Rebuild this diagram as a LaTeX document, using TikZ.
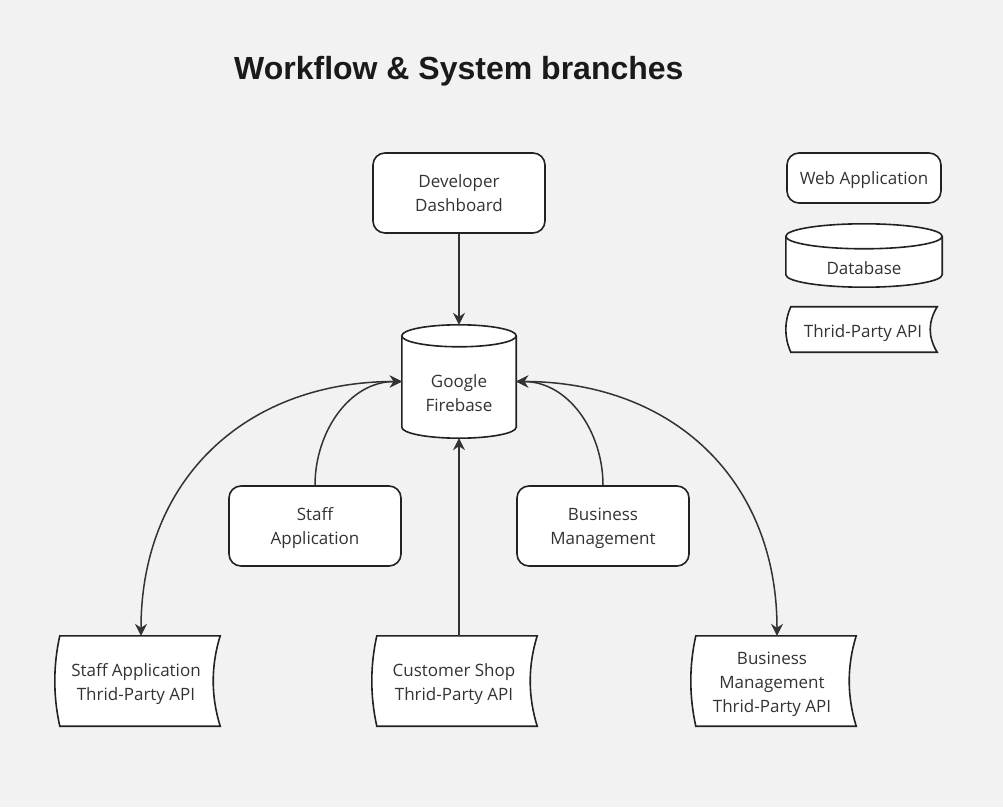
\documentclass[tikz,border=0pt]{standalone}
\usepackage{fontspec}
\setmainfont{Open Sans}
\newfontfamily\titlefont{Liberation Sans}
\usetikzlibrary{arrows.meta,calc}
\pgfdeclarelayer{bgl}
\pgfdeclarelayer{shapel}
\pgfsetlayers{bgl,shapel,main}
\definecolor{bgc}{HTML}{F2F2F2}
\definecolor{linec}{HTML}{222222}
\definecolor{connc}{HTML}{333333}
\definecolor{textc}{HTML}{333333}
\definecolor{titlec}{HTML}{1A1A1A}
\tikzset{
  nodefont/.style={font=\fontsize{17}{24}\selectfont},
  webbox/.style={draw=linec, line width=1.6pt, fill=white, rounded corners=12pt,
    align=center, text=textc, nodefont, inner sep=0pt, text depth=0pt},
  plain/.style={align=center, text=textc, nodefont, inner sep=0pt, text depth=0pt},
  shapeborder/.style={draw=linec, line width=1.6pt, fill=white},
  tipA/.tip={Stealth[length=12pt,width=12pt,inset=4pt]},
  conn/.style={draw=connc, line width=1.5pt, -tipA},
  conntwo/.style={draw=connc, line width=1.5pt, tipA-tipA},
}
% stored-data shape around node #1, shifted by (#2,#3)
\newcommand{\apishape}[3]{%
  \begin{pgfonlayer}{shapel}
  \path[shapeborder] let \p1=([xshift=#2pt,yshift=#3pt]#1.north west),
      \p2=([xshift=#2pt,yshift=#3pt]#1.south east),
      \n1={(\y1-\y2)/3} in
    (\x1+5pt,\y1) -- (\x2+7pt,\y1)
    .. controls (\x2-2.33pt,\y1-\n1) and (\x2-2.33pt,\y2+\n1) .. (\x2+7pt,\y2)
    -- (\x1+5pt,\y2)
    .. controls (\x1-1.67pt,\y2+\n1) and (\x1-1.67pt,\y1-\n1) .. (\x1+5pt,\y1)
    -- cycle;
  \end{pgfonlayer}}
\newcommand{\cylshape}[2]{%
  \begin{pgfonlayer}{shapel}
  \path[shapeborder] let \p1=(#1.north west), \p2=(#1.south east),
      \n1={(\x2-\x1)/2} in
    (\x1,\y1-#2pt) -- (\x1,\y2+#2pt)
    arc[start angle=180,end angle=360,x radius=\n1,y radius=#2pt]
    -- (\x2,\y1-#2pt)
    arc[start angle=0,end angle=180,x radius=\n1,y radius=#2pt] -- cycle;
  \draw[draw=linec, line width=1.6pt] let \p1=(#1.north west), \p2=(#1.south east),
      \n1={(\x2-\x1)/2} in
    (\x1,\y1-#2pt) arc[start angle=180,end angle=360,x radius=\n1,y radius=#2pt];
  \end{pgfonlayer}}
\begin{document}
\begin{tikzpicture}[x=1pt,y=1pt]
\begin{pgfonlayer}{bgl}
  \fill[bgc] (0,0) rectangle (1003,807);
\end{pgfonlayer}
\useasboundingbox (0,0) rectangle (1003,807);

% title
\node[anchor=base west, inner sep=0pt, text=titlec,
      font=\titlefont\bfseries\fontsize{32}{40}\selectfont] (title) at (234,727)
      {Workflow \& System branches};

% web application boxes
\node[webbox, minimum width=172pt, minimum height=80pt] (DD) at (459,614) {Developer\\Dashboard};
\node[webbox, minimum width=172pt, minimum height=80pt] (SA) at (315,281) {Staff\\Application};
\node[webbox, minimum width=172pt, minimum height=80pt] (BM) at (603,281) {Business\\Management};

% database
\node[inner sep=0pt, minimum width=114pt, minimum height=113pt,
      label={[plain, yshift=-12pt]center:Google\\Firebase}] (FB) at (459,425.5) {};
\cylshape{FB}{11}

% third-party APIs
\node[plain, minimum width=158pt, minimum height=90pt] (SAPI) at (136,125) {Staff Application\\Thrid-Party API};
\node[plain, minimum width=158pt, minimum height=90pt] (CAPI) at (454,125) {Customer Shop\\Thrid-Party API};
\node[plain, minimum width=158pt, minimum height=90pt] (BAPI) at (772,125) {Business\\Management\\Thrid-Party API};
\apishape{SAPI}{-2}{1}
\apishape{CAPI}{-3}{1}
\apishape{BAPI}{-2}{1}

% legend
\node[webbox, minimum width=154pt, minimum height=50pt] (LW) at (864,629) {Web Application};
\node[inner sep=0pt, minimum width=156pt, minimum height=63pt,
      label={[plain, yshift=-12.5pt]center:Database}] (LD) at (864,551.5) {};
\cylshape{LD}{12.5}
\node[plain, minimum width=144pt, minimum height=45pt] (LA) at (863,475.5) {Thrid-Party API};
\apishape{LA}{-5}{2}

% connectors
\draw[conn] (DD.south) -- (FB.north);
\draw[conn] ([yshift=1pt]CAPI.north -| FB.south) -- (FB.south);
\draw[conn] (SA.north) to[out=90,in=180] (FB.west);
\draw[conn] (BM.north) to[out=90,in=0] (FB.east);
\draw[conntwo] (FB.west) to[out=180,in=90,looseness=1.1] ([xshift=5pt,yshift=1pt]SAPI.north);
\draw[conntwo] (FB.east) to[out=0,in=90,looseness=1.1] ([xshift=5pt,yshift=1pt]BAPI.north);
\end{tikzpicture}
\end{document}
